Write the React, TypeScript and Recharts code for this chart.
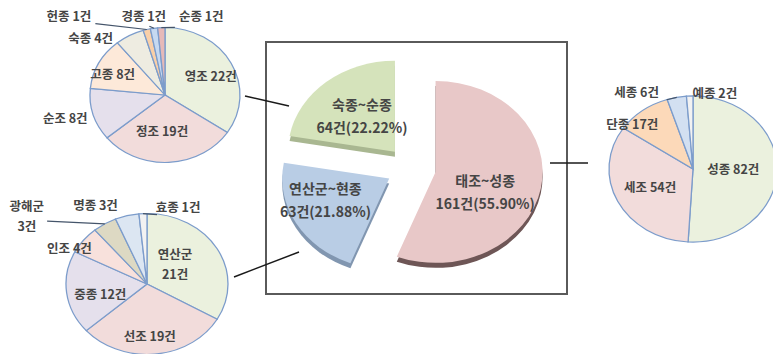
import React from "react";
import { PieChart, Pie, Cell, Sector, Customized } from "recharts";

// 시기별 건수 (가운데 원)
const eraNames = ["태조~성종", "연산군~현종", "숙종~순종"];
const eraCounts = [161, 63, 64];

// 숙종~순종 (왼쪽 위)
const lateNames = ["영조", "정조", "순조", "고종", "숙종", "헌종", "경종", "순종"];
const lateCounts = [22, 19, 8, 8, 4, 1, 1, 1];

// 연산군~현종 (왼쪽 아래)
const midNames = ["연산군", "선조", "중종", "인조", "광해군", "명종", "효종"];
const midCounts = [21, 19, 12, 4, 3, 3, 1];

// 태조~성종 (오른쪽)
const earlyNames = ["성종", "세조", "단종", "세종", "예종"];
const earlyCounts = [82, 54, 17, 6, 2];

const toRows = (names: string[], counts: number[]) =>
  names.map((name, i) => ({ name, value: counts[i] }));

const eraColors = ["#E8C8C8", "#B9CDE5", "#D5E3BB"];
const eraRims = ["#6E5656", "#8196B0", "#A9B791"];
const lateColors = ["#EBF1DE", "#F2DCDB", "#E5E0EC", "#FDE9D9", "#EEECE1", "#F9CFA8", "#C6D9F1", "#E6B9B8"];
const midColors = ["#EBF1DE", "#F2DCDB", "#E5E0EC", "#F8E1DC", "#DDD9C3", "#DCE6F2", "#F2F2F2"];
const earlyColors = ["#EBF1DE", "#F2DCDB", "#FCD9B9", "#D3E0F1", "#F2F2F2"];

// [반지름 비율, 각도 보정(도), 지시선 비율]
const labelSpots: Record<string, [number, number, number]> = {
  영조: [0.68, -2, 0], 정조: [0.52, -7, 0], 순조: [1.37, -3, 0], 고종: [0.77, 3, 0],
  숙종: [1.31, 21, 0], 헌종: [1.75, 33, 0.66], 경종: [1.22, 5, 0.45], 순종: [1.28, -25, 0.34],
  연산군: [0.46, 11, 0], 선조: [0.72, -3, 0], 중종: [0.59, 5, 0], 인조: [1.09, 10, 0],
  광해군: [1.78, 25, 0.74], 명종: [1.3, 15, 0], 효종: [1.17, -22, 0.4],
  성종: [0.48, 3, 0], 세조: [0.56, -2, 0], 단종: [0.96, 12, 0], 세종: [1.26, 21, 0.25], 예종: [1.09, -16, 0],
  "태조~성종": [0.51, -14, 0], "연산군~현종": [0.64, -8, 0], "숙종~순종": [0.5, -2, 0],
};
const wrapNames = ["연산군", "광해군"];

const FONT = "'Noto Sans CJK KR', 'Noto Sans', sans-serif";
const RAD = Math.PI / 180;

function sliceShape(sy: number, explode: number, depth: number) {
  return (p: any) => {
    const m = p.midAngle * RAD;
    const x = p.cx + explode * Math.cos(m);
    const y = p.cy - explode * Math.sin(m) * sy;
    const rim = eraRims[eraNames.indexOf(p.name)];
    return (
      <g transform={`translate(${x} ${y}) scale(1 ${sy})`}>
        {depth > 0 && rim && (
          <Sector cx={0} cy={depth / sy} innerRadius={0} outerRadius={p.outerRadius}
            startAngle={p.startAngle} endAngle={p.endAngle} fill={rim} stroke="none" />
        )}
        <Sector cx={0} cy={0} innerRadius={0} outerRadius={p.outerRadius}
          startAngle={p.startAngle} endAngle={p.endAngle} fill={p.fill}
          stroke={p.stroke} strokeWidth={p.strokeWidth} />
      </g>
    );
  };
}

function sliceLabel(sy: number, explode: number, big: boolean) {
  return (p: any) => {
    const spot = labelSpots[p.name] || [0.6, 0, 0];
    const m = p.midAngle * RAD;
    const ox = p.cx + explode * Math.cos(m);
    const oy = p.cy - explode * Math.sin(m) * sy;
    const a = (p.midAngle + spot[1]) * RAD;
    const r = p.outerRadius * spot[0];
    const lx = ox + r * Math.cos(a);
    const ly = oy - r * Math.sin(a) * sy;
    let lines: string[];
    if (big) {
      lines = [p.name, `${p.value}건(${(p.percent * 100).toFixed(2)}%)`];
    } else if (wrapNames.includes(p.name)) {
      lines = [p.name, `${p.value}건`];
    } else {
      lines = [`${p.name} ${p.value}건`];
    }
    const gap = big ? 23 : 20;
    const top = ly - ((lines.length - 1) * gap) / 2;
    let leader = null;
    if (spot[2] > 0) {
      const ex = ox + p.outerRadius * Math.cos(m);
      const ey = oy - p.outerRadius * Math.sin(m) * sy;
      const tx = ex + (lx - ex) * spot[2];
      const ty = ey + (ly - ey) * spot[2] + 4;
      leader = <polyline points={`${ex},${ey} ${tx},${ty}`} fill="none" stroke="#44546A" strokeWidth={1.2} />;
    }
    return (
      <g>
        {leader}
        <text x={lx} y={top} textAnchor="middle" dominantBaseline="central"
          fontFamily={FONT} fontSize={big ? 14 : 12.5} fontWeight="bold" fill="#454545">
          {lines.map((t, i) => (
            <tspan key={i} x={lx} dy={i === 0 ? 0 : gap}>{t}</tspan>
          ))}
        </text>
      </g>
    );
  };
}

const Frame = () => (
  <g>
    <rect x={266} y={42} width={301} height={252} fill="none" stroke="#5A5A5A" strokeWidth={2} />
    <line x1={245} y1={96} x2={289} y2={106} stroke="#1A1A1A" strokeWidth={1.5} />
    <line x1={234} y1={277} x2={299} y2={252} stroke="#1A1A1A" strokeWidth={1.5} />
    <line x1={550} y1={163} x2={588} y2={163} stroke="#1A1A1A" strokeWidth={1.5} />
  </g>
);

export default function App() {
  return (
    <div style={{ position: "absolute", left: 0, top: 0, background: "#fff" }}>
      <PieChart width={773} height={354} margin={{ top: 0, right: 0, bottom: 0, left: 0 }}>
        <Customized component={Frame} />
        <Pie data={toRows(eraNames, eraCounts)} dataKey="value" cx={411} cy={168} outerRadius={107}
          startAngle={90} endAngle={-270} stroke="none" isAnimationActive={false}
          shape={sliceShape(0.85, 25, 5)} labelLine={false} label={sliceLabel(0.85, 25, true)}>
          {eraColors.map((c, i) => <Cell key={i} fill={c} />)}
        </Pie>
        <Pie data={toRows(lateNames, lateCounts)} dataKey="value" cx={165} cy={95} outerRadius={75}
          startAngle={90} endAngle={-270} stroke="#7C9CCB" strokeWidth={1.3} isAnimationActive={false}
          shape={sliceShape(0.9, 0, 0)} labelLine={false} label={sliceLabel(0.9, 0, false)}>
          {lateColors.map((c, i) => <Cell key={i} fill={c} />)}
        </Pie>
        <Pie data={toRows(midNames, midCounts)} dataKey="value" cx={147} cy={284} outerRadius={81}
          startAngle={90} endAngle={-270} stroke="#7C9CCB" strokeWidth={1.3} isAnimationActive={false}
          shape={sliceShape(0.87, 0, 0)} labelLine={false} label={sliceLabel(0.87, 0, false)}>
          {midColors.map((c, i) => <Cell key={i} fill={c} />)}
        </Pie>
        <Pie data={toRows(earlyNames, earlyCounts)} dataKey="value" cx={693} cy={169} outerRadius={84}
          startAngle={90} endAngle={-270} stroke="#7C9CCB" strokeWidth={1.3} isAnimationActive={false}
          shape={sliceShape(0.87, 0, 0)} labelLine={false} label={sliceLabel(0.87, 0, false)}>
          {earlyColors.map((c, i) => <Cell key={i} fill={c} />)}
        </Pie>
      </PieChart>
    </div>
  );
}
